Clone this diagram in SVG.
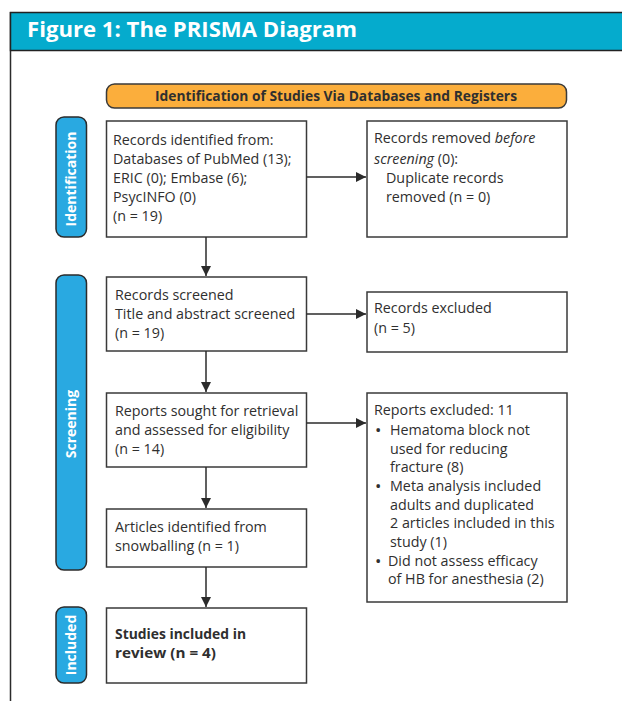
<svg xmlns="http://www.w3.org/2000/svg" width="622" height="701" viewBox="0 0 622 701">
<defs>
<marker id="ah" viewBox="0 0 10 10" refX="10" refY="5" markerWidth="10" markerHeight="10" markerUnits="userSpaceOnUse" orient="auto">
<path d="M0,0 L10,5 L0,10 Z" fill="#2b2b2b"/>
</marker>
<style>
.box{fill:#fff;stroke:#3a3a3a;stroke-width:1.5}
.side{fill:#29a9e1;stroke:#2b2b2b;stroke-width:1.5}
.t{font-family:"Open Sans","Liberation Sans",sans-serif;font-size:14.3px;fill:#2f2f2f}
.b{font-weight:bold}
.bl{font-size:17px}
.sl{font-family:"Open Sans","Liberation Sans",sans-serif;font-size:14px;font-weight:bold;fill:#fff}
.c{stroke:#2b2b2b;stroke-width:1.5;fill:none;marker-end:url(#ah)}
</style>
</defs>
<rect width="622" height="701" fill="#fff"/>
<g id="frame">
<line x1="10.5" y1="12" x2="10.5" y2="701" stroke="#2b2b2b" stroke-width="1.5"/>
<rect x="10.5" y="12.5" width="613" height="38" fill="#05abcd" stroke="#222" stroke-width="1.5"/>
<text x="27" y="37" font-family="Open Sans, Liberation Sans, sans-serif" font-size="22" font-weight="bold" fill="#fff" textLength="330" lengthAdjust="spacingAndGlyphs">Figure 1: The PRISMA Diagram</text>
</g>
<g id="header">
<rect x="106.5" y="84" width="460" height="24" rx="8" fill="#fbae3c" stroke="#3a3a3a" stroke-width="1.5"/>
<text x="336" y="101" text-anchor="middle" class="t b" font-size="13" textLength="362" lengthAdjust="spacingAndGlyphs">Identification of Studies Via Databases and Registers</text>
</g>
<g id="label-identification">
<rect x="56" y="117" width="30.5" height="120" rx="8" class="side"/>
<text class="sl" transform="translate(76,179) rotate(-90)" text-anchor="middle">Identification</text>
</g>
<g id="label-screening">
<rect x="56" y="275" width="30.5" height="295" rx="8" class="side"/>
<text class="sl" transform="translate(76,424) rotate(-90)" text-anchor="middle">Screening</text>
</g>
<g id="label-included">
<rect x="56" y="607" width="30.5" height="76" rx="8" class="side"/>
<text class="sl" transform="translate(76,645) rotate(-90)" text-anchor="middle">Included</text>
</g>
<g id="identified">
<rect x="106.5" y="121" width="200" height="116" class="box"/>
<text class="t" x="113" y="145">Records identified from:</text>
<text class="t" x="113" y="164">Databases of PubMed (13);</text>
<text class="t" x="113" y="183">ERIC (0); Embase (6);</text>
<text class="t" x="113" y="202">PsycINFO (0)</text>
<text class="t" x="113" y="221">(n = 19)</text>
</g>
<g id="removed">
<rect x="367" y="121" width="200" height="116" class="box"/>
<text class="t" x="374" y="143">Records removed <tspan font-style="italic">before</tspan></text>
<text class="t" x="374" y="164"><tspan font-style="italic">screening</tspan> (0):</text>
<text class="t" x="386" y="183">Duplicate records</text>
<text class="t" x="386" y="202">removed (n = 0)</text>
</g>
<g id="screened">
<rect x="106.5" y="277" width="200" height="74" class="box"/>
<text class="t" x="115" y="300">Records screened</text>
<text class="t" x="115" y="319">Title and abstract screened</text>
<text class="t" x="115" y="338">(n = 19)</text>
</g>
<g id="excluded">
<rect x="367" y="292" width="200" height="60" class="box"/>
<text class="t" x="374" y="313">Records excluded</text>
<text class="t" x="374" y="333">(n = 5)</text>
</g>
<g id="sought">
<rect x="106.5" y="393" width="200" height="74" class="box"/>
<text class="t" x="115" y="416">Reports sought for retrieval</text>
<text class="t" x="115" y="435">and assessed for eligibility</text>
<text class="t" x="115" y="454">(n = 14)</text>
</g>
<g id="reports-excluded">
<rect x="367" y="393" width="200" height="209" class="box"/>
<text class="t" x="374" y="415">Reports excluded: 11</text>
<text class="t bl" x="375" y="436">•</text>
<text class="t" x="390" y="435">Hematoma block not</text>
<text class="t" x="390" y="454">used for reducing</text>
<text class="t" x="390" y="472">fracture (8)</text>
<text class="t bl" x="375" y="492">•</text>
<text class="t" x="390" y="491">Meta analysis included</text>
<text class="t" x="390" y="510">adults and duplicated</text>
<text class="t" x="390" y="528">2 articles included in this</text>
<text class="t" x="390" y="547">study (1)</text>
<text class="t bl" x="375" y="567">•</text>
<text class="t" x="388" y="566">Did not assess efficacy</text>
<text class="t" x="388" y="584">of HB for anesthesia (2)</text>
</g>
<g id="snowballing">
<rect x="106.5" y="509" width="200" height="58" class="box"/>
<text class="t" x="115" y="532">Articles identified from</text>
<text class="t" x="115" y="551">snowballing (n = 1)</text>
</g>
<g id="included">
<rect x="106.5" y="608" width="200" height="75" class="box"/>
<text class="t b" x="115" y="639" textLength="131" lengthAdjust="spacingAndGlyphs">Studies included in</text>
<text class="t b" x="115" y="658" textLength="101" lengthAdjust="spacingAndGlyphs">review (n = 4)</text>
</g>
<g id="connectors">
<line x1="306.5" y1="177" x2="366" y2="177" class="c"/>
<line x1="206" y1="237" x2="206" y2="276" class="c"/>
<line x1="306.5" y1="314" x2="366" y2="314" class="c"/>
<line x1="206" y1="351" x2="206" y2="392" class="c"/>
<line x1="306.5" y1="423" x2="366" y2="423" class="c"/>
<line x1="206" y1="467" x2="206" y2="508" class="c"/>
<line x1="206" y1="567" x2="206" y2="607" class="c"/>
</g>
</svg>
